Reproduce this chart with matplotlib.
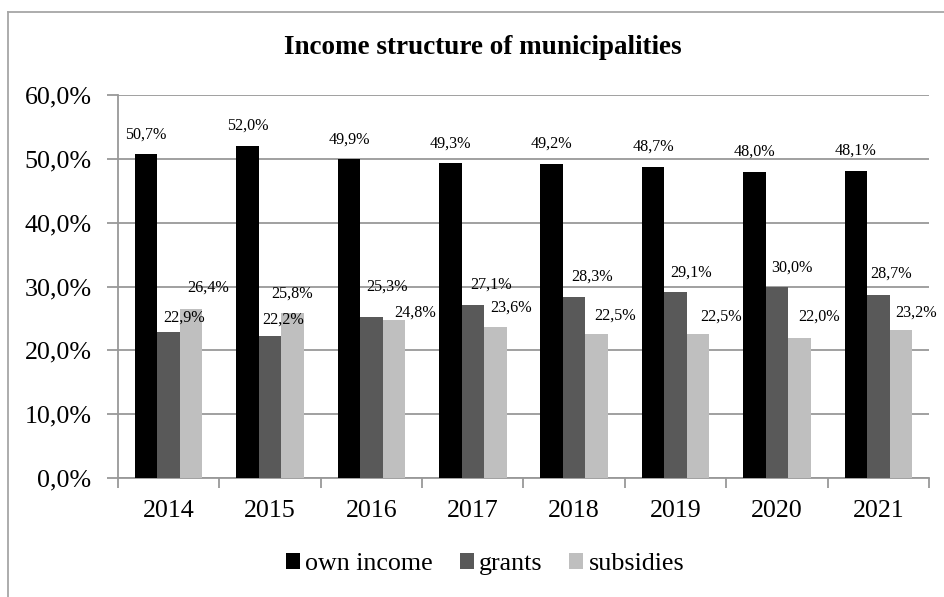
import matplotlib
matplotlib.use("Agg")
import matplotlib.pyplot as plt
import numpy as np
from matplotlib.lines import Line2D
from matplotlib.ticker import FixedLocator, FuncFormatter

plt.rcParams['font.family'] = ['Liberation Serif', 'DejaVu Serif']

# ---- data ----
years = ['2014', '2015', '2016', '2017', '2018', '2019', '2020', '2021']
own_income = [50.7, 52.0, 49.9, 49.3, 49.2, 48.7, 48.0, 48.1]
grants = [22.9, 22.2, 25.3, 27.1, 28.3, 29.1, 30.0, 28.7]
subsidies = [26.4, 25.8, 24.8, 23.6, 22.5, 22.5, 22.0, 23.2]
series_names = ['own income', 'grants', 'subsidies']

# label placement offsets (pixels) as in the original
grants_dx = [15, 13, 16, 18, 18, 16, 15, 13]
grants_dy = [-14, -17, -30, -20, -21, -20, -19, -21]
subs_dx = [17, 0, 21, 16, 18, 23, 20, 15]
subs_dy = [-22, -20, -7, -20, -19, -18, -21, -17]

colors = ['#000000', '#595959', '#bfbfbf']
grid_col = '#999999'

W, H = 945, 597
fig = plt.figure(figsize=(W / 100, H / 100), dpi=100)
ax = fig.add_axes([118 / W, 1 - 478 / H, (929 - 118) / W, (478 - 95) / H])

x = np.arange(len(years))
w = 0.2217
bars_own = ax.bar(x - w, own_income, w, color=colors[0], label=series_names[0], zorder=3)
bars_gr = ax.bar(x, grants, w, color=colors[1], label=series_names[1], zorder=3)
bars_sub = ax.bar(x + w, subsidies, w, color=colors[2], label=series_names[2], zorder=3)

def fmt(v):
    return f"{v:.1f}".replace('.', ',') + '%'

lab_fs = 11.6
for xi, v in zip(x - w, own_income):
    ax.annotate(fmt(v), (xi, v), xytext=(0, 20), textcoords='offset pixels',
                ha='center', va='center', fontsize=lab_fs, zorder=5)
for xi, v, dx, dy in zip(x, grants, grants_dx, grants_dy):
    ax.annotate(fmt(v), (xi, v), xytext=(dx, -dy), textcoords='offset pixels',
                ha='center', va='center', fontsize=lab_fs, zorder=5)
for xi, v, dx, dy in zip(x + w, subsidies, subs_dx, subs_dy):
    ax.annotate(fmt(v), (xi, v), xytext=(dx, -dy), textcoords='offset pixels',
                ha='center', va='center', fontsize=lab_fs, zorder=5)

ax.set_xlim(-0.5, len(years) - 0.5)
ax.set_ylim(0, 60)
ax.yaxis.set_major_locator(FixedLocator(np.arange(0, 61, 10)))
ax.yaxis.set_major_formatter(FuncFormatter(lambda v, p: f"{v:.1f}".replace('.', ',') + '%'))
ax.grid(axis='y', color=grid_col, linewidth=1.3, zorder=0)
ax.set_axisbelow(True)

# x ticks at category boundaries, labels at centers
ax.xaxis.set_major_locator(FixedLocator(np.arange(-0.5, len(years), 1.0)))
ax.xaxis.set_major_formatter(FuncFormatter(lambda v, p: ''))
ax.xaxis.set_minor_locator(FixedLocator(x))
ax.set_xticklabels(years, minor=True)
ax.tick_params(axis='x', which='major', length=7, width=1.3, color=grid_col, direction='out')
ax.tick_params(axis='x', which='minor', length=0, labelsize=18.7, pad=16)
ax.tick_params(axis='y', length=8, width=1.3, color=grid_col, labelsize=18.7, pad=11)

for s in ['top', 'right']:
    ax.spines[s].set_visible(False)
for s in ['left', 'bottom']:
    ax.spines[s].set_color(grid_col)
    ax.spines[s].set_linewidth(1.3)

fig.text(483 / W, 1 - 47 / H, 'Income structure of municipalities', ha='center', va='center',
         fontsize=19.5, fontweight='bold')

leg = fig.legend(handles=[bars_own, bars_gr, bars_sub], labels=series_names,
                 loc='center', bbox_to_anchor=(485 / W, 1 - 564 / H), ncol=3, frameon=False,
                 fontsize=18.7, handlelength=0.54, handleheight=0.54, handletextpad=0.2,
                 columnspacing=1.04)

# outer chart border (top and left visible)
fig.add_artist(Line2D([8.3 / W, 8.3 / W], [0, 1 - 11.7 / H], transform=fig.transFigure,
                      color='#a6a6a6', linewidth=1.3))
fig.add_artist(Line2D([8.3 / W, 1], [1 - 11.7 / H, 1 - 11.7 / H], transform=fig.transFigure,
                      color='#a6a6a6', linewidth=1.3))

fig.savefig('out.png', dpi=100)
